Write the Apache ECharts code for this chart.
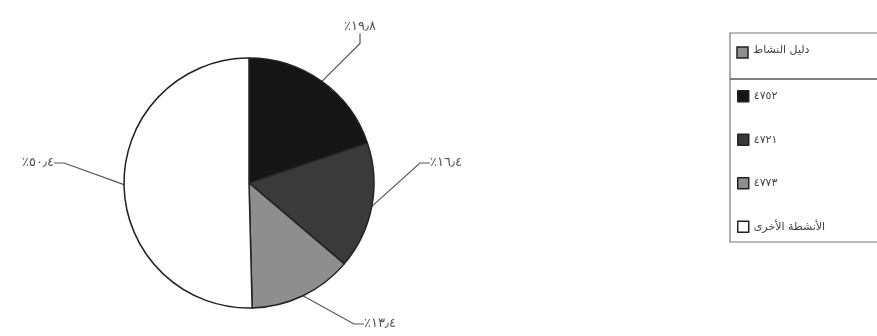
<!DOCTYPE html>
<html>
<head>
<meta charset="utf-8">
<style>
  html, body { margin: 0; padding: 0; background: #fff; }
  #chart { width: 877px; height: 336px; }
</style>
<script src="https://cdn.jsdelivr.net/npm/echarts@6/dist/echarts.min.js"></script>
</head>
<body>
<div id="chart"></div>
<script>
// بيانات الرسم
var categories = ['٤٧٥٢', '٤٧٢١', '٤٧٧٣', 'الأنشطة الأخرى']
var shares = [19.8, 16.4, 13.4, 50.4] // نسبة مئوية
var shareLabels = ['٪١٩٫٨', '٪١٦٫٤', '٪١٣٫٤', '٪٥٠٫٤']
var legendTitle = 'دليل النشاط'

var fills = ['#151515', '#3a3a3a', '#8e8e8e', '#ffffff']
// مواضع النصوص حول الدائرة
var labelSpots = [[360, 27], [446, 163], [380, 324], [38, 163]]

var myChart = echarts.init(document.getElementById('chart'))

var option = {
  animation: false,
  color: fills,
  legend: {
    orient: 'vertical',
    left: 737,
    top: 90,
    padding: 0,
    itemWidth: 11,
    itemHeight: 11,
    itemGap: 31,
    icon: 'rect',
    selectedMode: false,
    data: categories,
    itemStyle: {
      borderColor: '#222',
      borderWidth: 1.5
    },
    textStyle: {
      fontFamily: 'DejaVu Sans',
      fontSize: 11,
      color: '#444'
    }
  },
  graphic: [{
    type: 'rect',
    shape: { x: 730, y: 33, width: 200, height: 209 },
    style: { fill: 'none', stroke: '#777', lineWidth: 1.2 }
  }, {
    type: 'line',
    shape: { x1: 730, y1: 79, x2: 877, y2: 79 },
    style: { stroke: '#555', lineWidth: 1.5 }
  }, {
    type: 'rect',
    shape: { x: 737, y: 47, width: 11, height: 11 },
    style: { fill: '#8e8e8e', stroke: '#222', lineWidth: 1.5 }
  }, {
    type: 'text',
    left: 753,
    top: 45,
    style: {
      text: legendTitle,
      font: '11px "DejaVu Sans"',
      fill: '#444'
    }
  }],
  series: [{
    type: 'pie',
    center: [249, 183],
    radius: 125,
    startAngle: 90,
    clockwise: true,
    data: categories.map(function (name, i) {
      return { name: name, value: shares[i] }
    }),
    itemStyle: {
      borderColor: '#222',
      borderWidth: 1.5
    },
    label: {
      show: true,
      position: 'outside',
      formatter: function (p) {
        return shareLabels[p.dataIndex]
      },
      fontFamily: 'DejaVu Sans',
      fontSize: 13,
      color: '#555'
    },
    labelLine: {
      show: true,
      length: 20,
      length2: 10,
      lineStyle: { color: '#555', width: 1.2 }
    },
    labelLayout: function (params) {
      var s = labelSpots[params.dataIndex]
      return { x: s[0], y: s[1], align: 'center', verticalAlign: 'middle' }
    },
    emphasis: { disabled: true }
  }]
}

myChart.setOption(option)
</script>
</body>
</html>
